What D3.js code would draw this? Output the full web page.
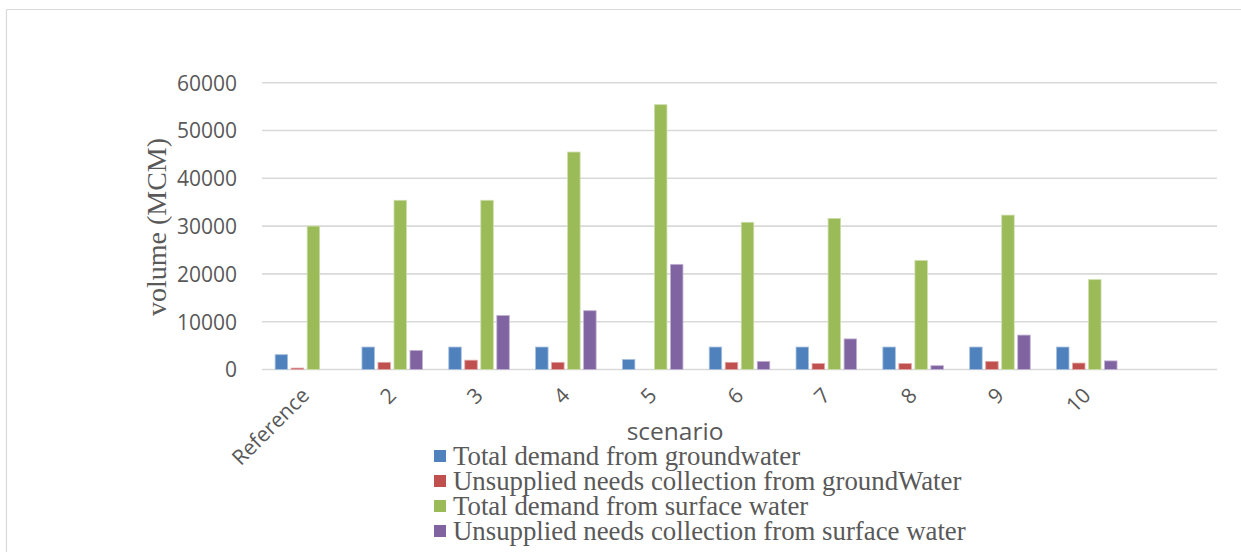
<!DOCTYPE html>
<html>
<head>
<meta charset="utf-8">
<script src="https://cdn.jsdelivr.net/npm/d3@7/dist/d3.min.js"></script>
<style>
  html, body { margin: 0; padding: 0; background: #fff; }
  svg { display: block; }
</style>
</head>
<body>
<svg id="chart" width="1241" height="552"></svg>
<script>
// ---- data ----
const categories = ["Reference", "2", "3", "4", "5", "6", "7", "8", "9", "10"];
const seriesNames = [
  "Total demand from groundwater",
  "Unsupplied needs collection from groundWater",
  "Total demand from surface water",
  "Unsupplied needs collection from surface water"
];
const groundwaterDemand   = [3100, 4700, 4700, 4700, 2100, 4700, 4700, 4700, 4700, 4700];
const groundwaterUnsupplied = [300, 1500, 1950, 1500, 0, 1500, 1250, 1250, 1700, 1350];
const surfaceDemand       = [30000, 35400, 35400, 45500, 55400, 30800, 31600, 22800, 32300, 18800];
const surfaceUnsupplied   = [0, 4000, 11300, 12300, 22000, 1700, 6400, 800, 7200, 1800];
const yTicks = [0, 10000, 20000, 30000, 40000, 50000, 60000];
const colors = ["#4f81bd", "#c0504d", "#9bbb59", "#8064a2"];

const seriesValues = [groundwaterDemand, groundwaterUnsupplied, surfaceDemand, surfaceUnsupplied];

// ---- layout ----
const svg = d3.select("#chart");
const textColor = "#595959";
const gridColor = "#d9d9d9";
const plot = { left: 262, right: 1217, top: 82.7, bottom: 369.5 };

// frame
svg.append("line").attr("x1", 6.5).attr("x2", 1241).attr("y1", 9.5).attr("y2", 9.5)
  .attr("stroke", gridColor).attr("stroke-width", 1.2);
svg.append("line").attr("x1", 6.5).attr("x2", 6.5).attr("y1", 9.5).attr("y2", 552)
  .attr("stroke", gridColor).attr("stroke-width", 1.2);

// scales (one empty slot after the last category)
const x = d3.scaleBand().domain([...categories, "__empty__"]).range([plot.left, plot.right]).padding(0);
const xInner = d3.scaleBand().domain(d3.range(seriesNames.length))
  .range([0, x.bandwidth()]).paddingInner(0.22).paddingOuter(0.82);
const y = d3.scaleLinear().domain([0, 60000]).range([plot.bottom, plot.top]);

// gridlines
svg.append("g").selectAll("line").data(yTicks).join("line")
  .attr("x1", plot.left).attr("x2", plot.right)
  .attr("y1", d => y(d)).attr("y2", d => y(d))
  .attr("stroke", gridColor).attr("stroke-width", 1.6);

// y axis labels
const yAxis = d3.axisLeft(y).tickValues(yTicks).tickFormat(d3.format("d")).tickSize(0).tickPadding(0);
const gy = svg.append("g").attr("transform", `translate(237,0)`).call(yAxis);
gy.select(".domain").remove();
gy.selectAll("text").attr("font-family", "'Open Sans', sans-serif").attr("font-size", 21)
  .attr("fill", textColor).attr("dy", "0.35em");

// bars
const groups = svg.append("g").selectAll("g").data(categories).join("g")
  .attr("transform", d => `translate(${x(d)},0)`);
groups.selectAll("rect")
  .data((d, i) => seriesValues.map((vals, s) => ({ s, v: vals[i] })))
  .join("rect")
  .filter(d => d.v > 0)
  .attr("x", d => xInner(d.s))
  .attr("width", xInner.bandwidth())
  .attr("y", d => y(d.v))
  .attr("height", d => y(0) - y(d.v))
  .attr("fill", d => colors[d.s])
  .attr("stroke", d => d3.interpolateRgb(colors[d.s], "#ffffff")(0.5))
  .attr("stroke-width", 0.8);

// x axis labels (rotated)
const xAxis = d3.axisBottom(x).tickValues(categories).tickSize(0).tickPadding(0);
const gx = svg.append("g").attr("transform", `translate(0,${plot.bottom})`).call(xAxis);
gx.select(".domain").remove();
gx.selectAll("text")
  .attr("font-family", "'Open Sans', sans-serif").attr("font-size", 21).attr("fill", textColor)
  .attr("text-anchor", "end").attr("dy", "0.35em").attr("y", 0)
  .attr("transform", "translate(0,22) rotate(-45)");

// axis titles
svg.append("text").attr("x", 675).attr("y", 440).attr("text-anchor", "middle")
  .attr("font-family", "'Open Sans', sans-serif").attr("font-size", 24.5).attr("fill", textColor)
  .text("scenario");
svg.append("text").attr("transform", "translate(166,227) rotate(-90)").attr("text-anchor", "middle")
  .attr("font-family", "'Liberation Serif', 'Times New Roman', serif").attr("font-size", 28).attr("fill", textColor)
  .text("volume (MCM)");

// legend
const legend = svg.append("g").selectAll("g").data(seriesNames).join("g")
  .attr("transform", (d, i) => `translate(434,${450 + i * 25})`);
legend.append("rect").attr("width", 12).attr("height", 12).attr("fill", (d, i) => colors[i]);
legend.append("text").attr("x", 19).attr("y", 14.5)
  .attr("font-family", "'Liberation Serif', 'Times New Roman', serif").attr("font-size", 26.8)
  .attr("fill", textColor).text(d => d);
</script>
</body>
</html>
